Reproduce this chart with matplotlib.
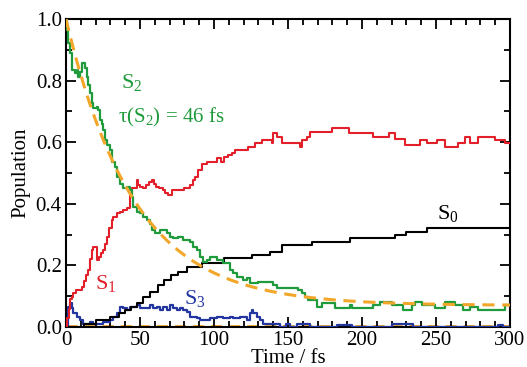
import numpy as np
import matplotlib
matplotlib.use("Agg")
import matplotlib.pyplot as plt
from matplotlib.ticker import MultipleLocator

# ---------------- data (step breakpoints: time [fs], population) ----------------
S2_t = [0, 0.5, 1.6, 2.7, 3.8, 6.1, 7.2, 8.3, 9.5, 10.6, 12.8, 14, 15, 16.2, 17.3, 18.5,
        20.7, 21.9, 23, 24, 25.2, 26.4, 28, 29.7, 30.9, 33.1, 34.2, 36.5, 38.7, 41, 43.2,
        44.4, 45.5, 47.8, 50, 52.2, 54.5, 56.8, 57.9, 60.1, 63.5, 68, 70, 72.5, 75.9, 79.3,
        83.8, 86, 88.3, 90.5, 92.8, 95, 97.3, 101.8, 106.3, 110.8, 113, 115.3, 119.8, 122,
        124.3, 130, 140, 142.3, 157, 159.2, 161.5, 163.7, 169.4, 172.8, 181.8, 191.9, 193,
        207.7, 212.2, 220, 228, 233.6, 235.8, 240.3, 249.3, 256, 262.8, 268.5, 273, 278.6,
        296.6, 300]
S2_p = [1.0, 0.964, 0.921, 0.889, 0.834, 0.824, 0.834, 0.813, 0.829, 0.856, 0.84, 0.813,
        0.786, 0.759, 0.726, 0.71, 0.715, 0.705, 0.672, 0.66, 0.64, 0.607, 0.59, 0.575, 0.537,
        0.52, 0.488, 0.466, 0.45, 0.456, 0.445, 0.423, 0.39, 0.374, 0.369, 0.358, 0.347,
        0.336, 0.315, 0.304, 0.315, 0.304, 0.293, 0.288, 0.293, 0.282, 0.277, 0.26, 0.25,
        0.228, 0.212, 0.217, 0.228, 0.217, 0.207, 0.185, 0.174, 0.163, 0.153, 0.158, 0.142,
        0.147, 0.136, 0.126, 0.12, 0.109, 0.098, 0.088, 0.066, 0.077, 0.061, 0.071, 0.061,
        0.071, 0.082, 0.071, 0.055, 0.071, 0.082, 0.071, 0.061, 0.082, 0.071, 0.055, 0.066,
        0.055, 0.071, 0.071]

S1_t = [0, 1, 2, 3, 3.8, 5, 7, 10.6, 12, 13.5, 15, 16.5, 17.5, 18.5, 20.7, 22, 23.5, 25.2,
        26.4, 27.5, 29, 30.9, 32, 34.2, 36.5, 38.7, 41, 43.2, 44.4, 46.5, 47.8, 49, 50, 52,
        54, 56, 58, 59.5, 61, 63, 65.8, 67, 69, 71.4, 76, 80, 83.8, 85.5, 87.2, 89, 91.7, 95,
        101.8, 105, 107, 109.7, 112, 114, 117.6, 123.2, 127.7, 132.2, 139, 140, 142.3, 145.7,
        158, 159.2, 162.6, 164.9, 179.5, 191, 207.7, 218, 222.3, 229, 233.6, 239.2, 243.7,
        250.5, 256, 265, 269.6, 273, 278.6, 290, 296.6, 300]
S1_p = [0.0, 0.03, 0.06, 0.09, 0.098, 0.109, 0.12, 0.131, 0.15, 0.17, 0.185, 0.22, 0.25,
        0.26, 0.217, 0.228, 0.239, 0.25, 0.27, 0.293, 0.32, 0.347, 0.358, 0.369, 0.374, 0.38,
        0.385, 0.434, 0.45, 0.45, 0.477, 0.46, 0.456, 0.45, 0.461, 0.472, 0.477, 0.466, 0.456,
        0.45, 0.445, 0.434, 0.429, 0.445, 0.445, 0.45, 0.461, 0.477, 0.488, 0.51, 0.53, 0.537,
        0.548, 0.537, 0.553, 0.558, 0.564, 0.575, 0.575, 0.585, 0.596, 0.607, 0.596, 0.629,
        0.618, 0.596, 0.585, 0.607, 0.618, 0.634, 0.645, 0.629, 0.618, 0.629, 0.612, 0.591,
        0.591, 0.607, 0.596, 0.607, 0.585, 0.596, 0.618, 0.596, 0.618, 0.607, 0.596, 0.596]

S0_t = [0, 12, 20, 30, 36, 40, 44, 48, 52, 57, 62, 66, 71, 76, 82, 92, 107, 125.5, 138,
        146, 166, 192, 222, 230, 244, 300]
S0_p = [0.0, 0.011, 0.022, 0.033, 0.044, 0.055, 0.066, 0.077, 0.098, 0.115, 0.136, 0.153,
        0.169, 0.18, 0.196, 0.207, 0.223, 0.234, 0.245, 0.266, 0.277, 0.288, 0.299, 0.309,
        0.322, 0.322]

S3_t = [0, 1.6, 2.7, 3.8, 5, 7.2, 9.5, 11.7, 16.2, 18.5, 25, 29.7, 32, 34.2, 36.5, 38.7, 41,
        43.2, 47.7, 50, 52.2, 56.8, 59, 61.3, 63.5, 65.8, 68, 70.3, 72.5, 74.8, 77, 79.3,
        81.5, 83.8, 88.3, 90.5, 97.3, 101.8, 106.3, 110.8, 113, 117.6, 122, 124.3, 125.4,
        126.6, 128.8, 131, 133.3, 140, 144.6, 149, 151.3, 155.8, 160, 165, 182.9, 193, 220,
        234.7, 292, 295.5, 300]
S3_p = [0.0, 0.066, 0.077, 0.061, 0.044, 0.033, 0.023, 0.011, 0.017, 0.011, 0.017, 0.023,
        0.033, 0.044, 0.066, 0.061, 0.055, 0.066, 0.071, 0.061, 0.061, 0.071, 0.061, 0.066,
        0.055, 0.066, 0.055, 0.071, 0.061, 0.055, 0.061, 0.055, 0.05, 0.033, 0.028, 0.023,
        0.028, 0.033, 0.028, 0.033, 0.028, 0.033, 0.023, 0.044, 0.055, 0.044, 0.033, 0.022,
        0.011, 0.011, 0.0, 0.011, 0.0, 0.011, 0.011, 0.0, 0.008, 0.0, 0.011, 0.0, 0.008,
        0.0, 0.0]

tau = 46.0          # fitted lifetime of S2 [fs]
fit_A = 0.93        # amplitude of fit
fit_C = 0.07        # offset of fit

x_ticks = [0, 50, 100, 150, 200, 250, 300]
y_ticks = [0.0, 0.2, 0.4, 0.6, 0.8, 1.0]

# ---------------- plot ----------------
plt.rcParams['font.family'] = ['Liberation Serif', 'DejaVu Serif']
plt.rcParams['mathtext.fontset'] = 'custom'
plt.rcParams['mathtext.rm'] = 'Liberation Serif'
plt.rcParams['mathtext.it'] = 'Liberation Serif'

fig = plt.figure(figsize=(5.27, 3.67), dpi=100)
ax = fig.add_axes([0.1252, 0.109, 0.8425, 0.839])

c_green = '#1f9a3c'
c_red = '#e3202a'
c_blue = '#2336a0'
c_orange = '#f2a72a'

tf = np.linspace(0, 300, 600)
ax.plot(tf, np.full_like(tf, 0.003), color=c_orange, lw=2.0, dashes=(4, 2.5), zorder=1)

ax.plot(S3_t, S3_p, drawstyle='steps-post', color=c_blue, lw=1.6, zorder=3)
ax.plot(S0_t, S0_p, drawstyle='steps-post', color='black', lw=1.5, zorder=3)
ax.plot(S1_t, S1_p, drawstyle='steps-post', color=c_red, lw=1.5, zorder=3)
ax.plot(S2_t, S2_p, drawstyle='steps-post', color=c_green, lw=1.6, zorder=4)
ax.plot(tf, fit_A * np.exp(-tf / tau) + fit_C, color=c_orange, lw=2.2,
        dashes=(4, 2.5), zorder=5)

ax.set_xlim(0, 300)
ax.set_ylim(0, 1.0)
ax.set_xticks(x_ticks)
ax.set_yticks(y_ticks)
ax.set_yticklabels([f"{v:.1f}" for v in y_ticks])
ax.xaxis.set_minor_locator(MultipleLocator(10))
ax.yaxis.set_minor_locator(MultipleLocator(0.1))
ax.tick_params(which='both', direction='in', top=True, right=True, width=1.3,
               labelsize=15, pad=3)
ax.tick_params(which='major', length=7)
ax.tick_params(which='minor', length=4)
for s in ax.spines.values():
    s.set_linewidth(1.5)

ax.set_xlabel('Time / fs', fontsize=15, labelpad=-1)
ax.set_ylabel('Population', fontsize=15, labelpad=4)

ax.text(37, 0.775, r'S$_2$', color=c_green, fontsize=16)
ax.text(35, 0.665, r'$\mathrm{\tau}$(S$_2$) = 46 fs', color=c_green, fontsize=15)
ax.text(19.5, 0.125, r'S$_1$', color=c_red, fontsize=16)
ax.text(80, 0.075, r'S$_3$', color=c_blue, fontsize=16)
ax.text(250.5, 0.35, r'S$_0$', color='black', fontsize=16)

fig.savefig('out.png', dpi=100)
